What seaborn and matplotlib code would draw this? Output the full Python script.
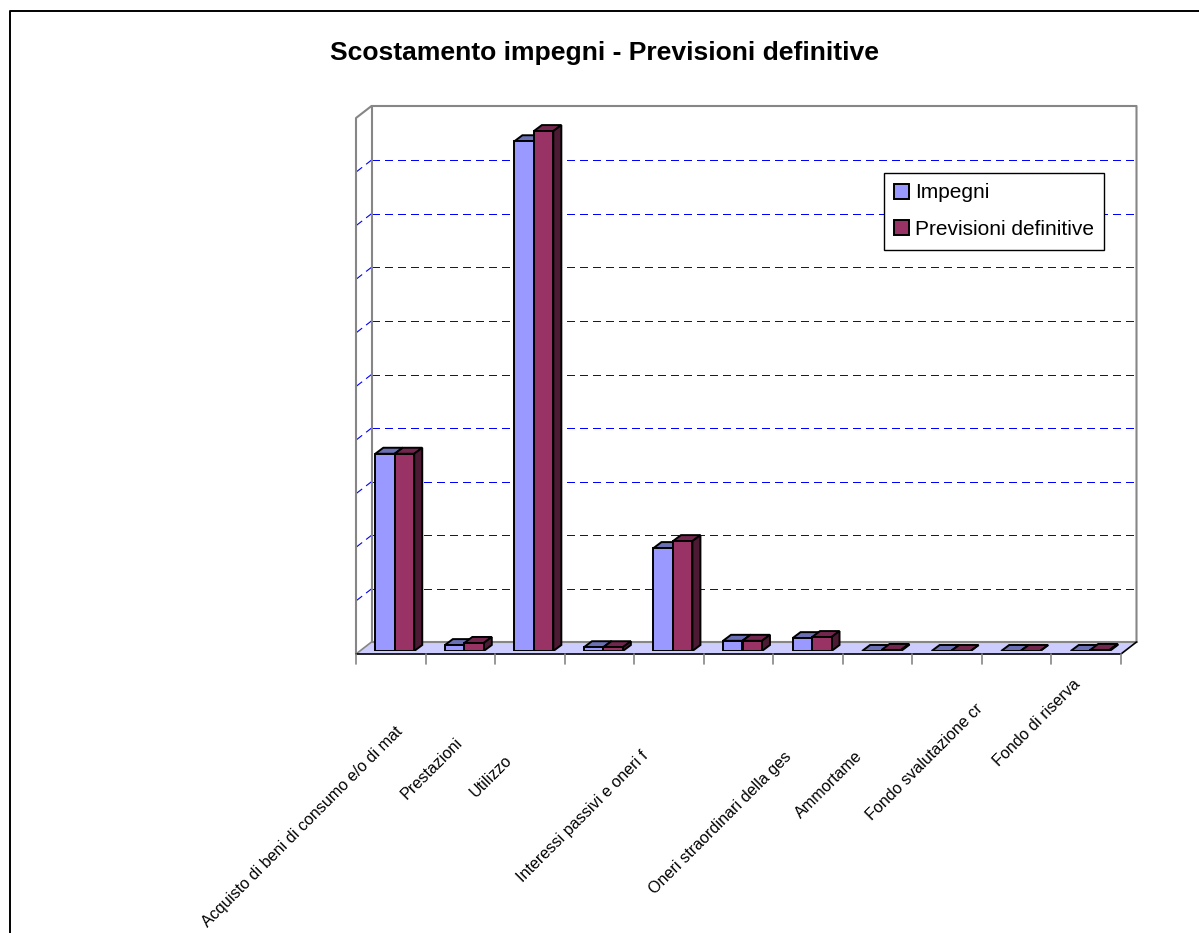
from matplotlib.transforms import ScaledTranslation
import matplotlib
matplotlib.use("Agg")
import matplotlib.pyplot as plt
import pandas as pd
import seaborn as sns

WIDTH, HEIGHT = 1199, 933

# labels Excel actually printed are cut off, blanks are the ones it skipped
categories = [
    "Acquisto di beni di consumo e/o di mat",
    "Prestazioni",
    "Utilizzo",
    " ",
    "Interessi passivi e oneri f",
    "  ",
    "Oneri straordinari della ges",
    "Ammortame",
    "   ",
    "Fondo svalutazione cr",
    "Fondo di riserva",
]
impegni = [3.68, 0.11, 9.51, 0.07, 1.92, 0.19, 0.24, 0.0, 0.0, 0.0, 0.0]
previsioni = [3.68, 0.15, 9.70, 0.07, 2.05, 0.19, 0.26, 0.02, 0.0, 0.0, 0.02]
series_names = ["Impegni", "Previsioni definitive"]
grid_levels = [1, 2, 3, 4, 5, 6, 7, 8, 9]

# pixel layout of the fake 3d box
X0, X1 = 356, 1121
Y_FLOOR = 654
DEPTH_X, DEPTH_Y = 15.5, 12
Y_TOP = 118
Y_GRID0 = 642.5
UNIT = 53.6
BAR_DX, BAR_DY = 8, 6
label_shift = [(5, -78), (-4, -89), (-24, -107), None, (-27, -103), None,
               (-23, -103), (-22, -103), None, (-40, -55), (-12, -31)]

FRONT = {"Impegni": "#9999FF", "Previsioni definitive": "#993366"}
TOP = {"Impegni": "#6B70B5", "Previsioni definitive": "#73264D"}
SIDE = {"Impegni": "#4D4D80", "Previsioni definitive": "#4D1A33"}


def px(x, y):
    return x / WIDTH, 1 - y / HEIGHT


def draw_box(fig):
    bg = fig.add_axes([0, 0, 1, 1])
    bg.set_xlim(0, WIDTH)
    bg.set_ylim(HEIGHT, 0)
    bg.axis("off")

    # chart area border, only top and left are inside the image
    bg.plot([10, 10, 1199], [933, 10.5, 10.5], color="black", lw=1.4)

    gray = "#868686"
    bx0, bx1 = X0 + DEPTH_X, X1 + DEPTH_X
    by = Y_FLOOR - DEPTH_Y
    bg.fill([X0, X1, bx1, bx0], [Y_FLOOR, Y_FLOOR, by, by], color="#CCCCFF", lw=0)

    for level in grid_levels:
        y = Y_GRID0 - level * UNIT
        bg.plot([bx0, bx1], [y, y], color="#0000FF", lw=0.8, dashes=(7, 4.5), antialiased=False)
        bg.plot([X0, bx0], [y + DEPTH_Y, y], color="#0000FF", lw=0.8, dashes=(7, 4.5))

    top = Y_TOP - DEPTH_Y
    bg.plot([X0, X0, bx0, bx1, bx1], [Y_FLOOR, Y_TOP, top, top, by], color=gray, lw=1.5)
    bg.plot([bx0, bx0], [top, by], color=gray, lw=1.5)
    bg.plot([bx0, bx1], [by, by], color=gray, lw=1.5)
    bg.plot([X0, bx0], [Y_FLOOR, by], color=gray, lw=1.2)
    bg.plot([X0, X1, bx1], [Y_FLOOR, Y_FLOOR, by], color="black", lw=1.2)

    step = (X1 - X0) / len(categories)
    for i in range(len(categories) + 1):
        x = X0 + i * step
        bg.plot([x, x], [Y_FLOOR, Y_FLOOR + 10], color=gray, lw=1.2)


def add_depth(ax):
    # top and side faces, worked out from the bars seaborn drew
    sx = (X1 - X0) / len(categories)
    dx, dy = BAR_DX / sx, BAR_DY / UNIT
    for name, bars in zip(series_names, ax.containers):
        for bar in bars:
            x, w, h = bar.get_x(), bar.get_width(), bar.get_height()
            ax.fill([x, x + w, x + w + dx, x + dx], [h, h, h + dy, h + dy],
                    facecolor=TOP[name], edgecolor="black", lw=1.4, zorder=2)
            ax.fill([x + w, x + w + dx, x + w + dx, x + w], [0, dy, h + dy, h],
                    facecolor=SIDE[name], edgecolor="black", lw=1.4, zorder=2)
        for bar in bars:
            bar.set_zorder(3)


def main():
    sns.set_theme(style="white")
    plt.rcParams["font.family"] = ["Liberation Sans", "DejaVu Sans"]

    fig = plt.figure(figsize=(WIDTH / 100, HEIGHT / 100), dpi=100, facecolor="white")
    draw_box(fig)

    df = pd.DataFrame({
        "categoria": categories * 2,
        "valore": impegni + previsioni,
        "serie": [series_names[0]] * len(categories) + [series_names[1]] * len(categories),
    })

    # zero line sits where the bars stand on the floor, mid depth
    y_base = 651
    left = (X0 + 4) / WIDTH
    ax = fig.add_axes([left, 1 - y_base / HEIGHT, (X1 - X0) / WIDTH, 10.2 * UNIT / HEIGHT])
    ax.patch.set_alpha(0)
    sns.barplot(data=df, x="categoria", y="valore", hue="serie", order=categories,
                palette=FRONT, width=0.56, gap=0, saturation=1,
                edgecolor="black", linewidth=1.4, ax=ax)
    add_depth(ax)
    ax.set_xlim(-0.5, len(categories) - 0.5)
    ax.set_ylim(0, 10.2)
    ax.set_xlabel("")
    ax.set_ylabel("")
    ax.set_yticks([])
    sns.despine(ax=ax, left=True, bottom=True)

    ax.tick_params(axis="x", length=0, pad=0, labelsize=11.65, labelcolor="black")
    for label, shift in zip(ax.get_xticklabels(), label_shift):
        label.set(rotation=45, ha="right", va="center", rotation_mode="anchor")
        if shift is None:
            continue
        offset = ScaledTranslation(shift[0] / 100, shift[1] / 100, fig.dpi_scale_trans)
        label.set_transform(label.get_transform() + offset)

    handles, labels = ax.get_legend_handles_labels()
    ax.legend(handles, labels, loc="upper left", bbox_to_anchor=px(884, 173),
              bbox_transform=fig.transFigure, fontsize=15, frameon=True, fancybox=False,
              framealpha=1, edgecolor="black", labelcolor="black", borderaxespad=0,
              borderpad=0.5, handlelength=0.72, handleheight=0.72, handletextpad=0.25,
              labelspacing=0.85)
    ax.get_legend().get_frame().set_linewidth(1.0)

    fig.text(605 / WIDTH, 1 - 53 / HEIGHT, "Scostamento impegni - Previsioni definitive",
             ha="center", va="center", fontsize=19.05, fontweight="bold", color="black")

    fig.savefig("out.png", dpi=100)
    plt.close(fig)


if __name__ == "__main__":
    main()
